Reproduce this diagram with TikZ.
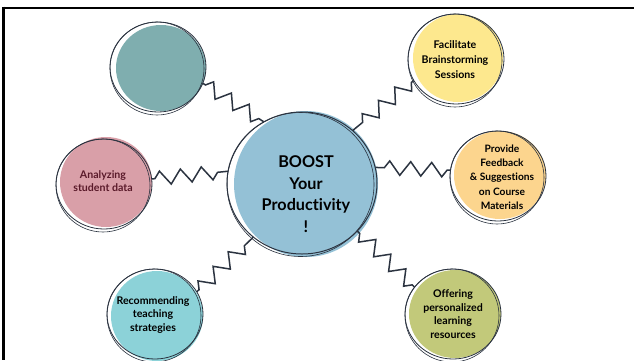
\documentclass[tikz,border=0pt]{standalone}
\usepackage{fontspec}
\setmainfont{Lato}[Ligatures=NoCommon]
\usetikzlibrary{shapes.geometric,decorations.pathmorphing}
\definecolor{ink}{HTML}{2B3340}
\definecolor{cteal}{HTML}{7FAEAF}
\definecolor{cyellow}{HTML}{FDE88E}
\definecolor{cpink}{HTML}{D99FA8}
\definecolor{corange}{HTML}{FCD58E}
\definecolor{ccenter}{HTML}{94C1D6}
\definecolor{ccyan}{HTML}{8CD2D8}
\definecolor{cgreen}{HTML}{C2C97A}
\definecolor{maroon}{HTML}{5A1A2A}
\tikzset{
  bubble/.style={ellipse, inner sep=0pt, minimum width=96pt, minimum height=90pt},
  label/.style={align=center, font=\bfseries\fontsize{10.6}{13.5}\selectfont, text=black},
  sketch/.style={draw=ink, line width=0.8pt},
  wiggle/.style={draw=ink, line width=1.5pt, line join=miter,
    decorate, decoration={zigzag, segment length=21pt, amplitude=7pt, pre length=3pt, post length=3pt}}
}
\begin{document}
\begin{tikzpicture}[x=1pt,y=-1pt]
\useasboundingbox (0,0) rectangle (634,360);
\fill[white] (0,0) rectangle (634,360);
% frame
\draw[black, line width=2.6pt] (3.5,8) -- (634,8);
\draw[black, line width=2.6pt] (3.5,6.7) -- (3.5,360);
% fills
\fill[cteal] (161,68) ellipse [x radius=45, y radius=43];
\fill[cyellow] (458,58) ellipse [x radius=45, y radius=44];
\fill[cpink] (106,182) ellipse [x radius=46, y radius=45];
\fill[corange] (500,175) ellipse [x radius=46, y radius=44];
\fill[ccenter] (306,184) ellipse [x radius=72, y radius=73];
\fill[ccyan] (157,316) ellipse [x radius=46, y radius=45];
\fill[cgreen] (455,314) ellipse [x radius=46, y radius=44];
% nodes
\node[bubble] (teal) at (158,67) {};
\node[bubble] (yellow) at (456,59) {};
\node[bubble] (pink) at (104,184) {};
\node[bubble] (orange) at (498,176) {};
\node[bubble, minimum width=150pt, minimum height=142pt] (center) at (302,183) {};
\node[bubble] (cyan) at (155,314) {};
\node[bubble] (green) at (453,314) {};
% sketchy outlines
\foreach \n in {teal,yellow,pink,orange,cyan,green}{
  \draw[sketch] (\n.center) ellipse [x radius=48, y radius=45];
  \draw[sketch, line width=0.6pt] ([shift={(-1,1.5)}]\n.center) ellipse [x radius=47, y radius=46.5];
}
\draw[sketch, line width=1pt] (center.center) ellipse [x radius=75, y radius=71];
\draw[sketch, line width=0.6pt] ([shift={(-1.5,1.5)}]center.center) ellipse [x radius=73.5, y radius=72];
% texts
\node[label] (tyellow) at (455,60) {Facilitate\\[1.5pt]Brainstorming\\[1.5pt]Sessions};
\node[label, font=\bfseries\fontsize{10.2}{14.3}\selectfont] (torange) at (502,177) {Provide\\Feedback\\\&~Suggestions\\on Course\\Materials};
\node[label, text=maroon] (tpink) at (103,181) {Analyzing\\student data};
\node[label] (tcyan) at (153,315) {Recommending\\teaching\\strategies};
\node[label] (tgreen) at (453,314) {Offering\\personalized\\learning\\resources};
\node[label, font=\bfseries\fontsize{16.2}{21.5}\selectfont] (tcenter) at (306,194) {BOOST\\Your\\Productivity\\!};
% connectors
\draw[wiggle] (teal.-20) -- (center.122);
\draw[wiggle] (yellow.-153) -- (center.46);
\draw[wiggle] (pink.6) -- (center.171);
\draw[wiggle] (orange.173) -- (center.12);
\draw[wiggle] (cyan.28) -- (center.-132);
\draw[wiggle] (green.145) -- (center.-41);
\end{tikzpicture}
\end{document}
